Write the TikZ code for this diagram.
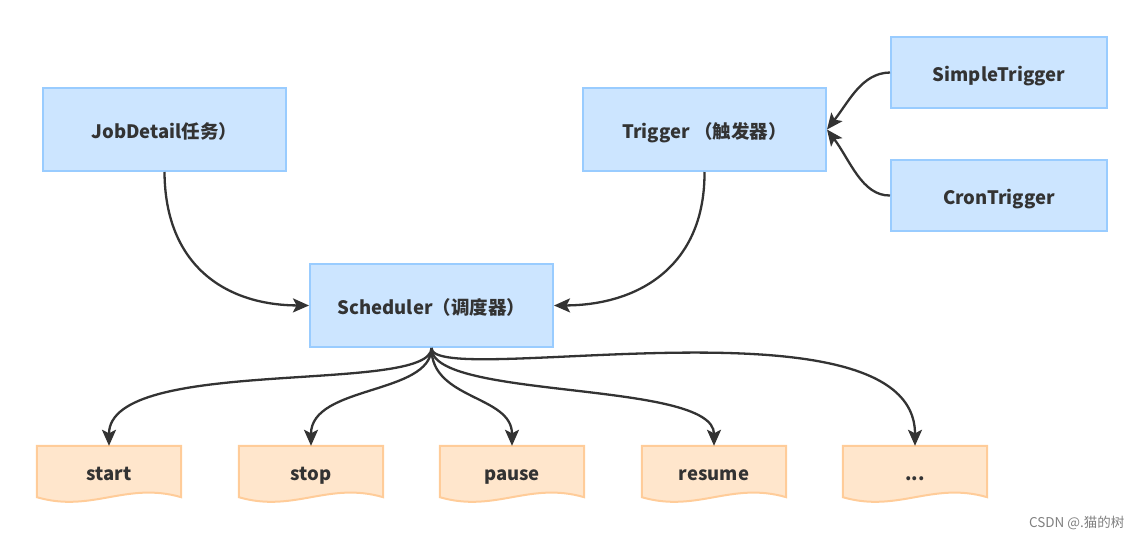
\documentclass[tikz,border=0pt]{standalone}
\usepackage{fontspec}
\setmainfont{Noto Sans CJK SC}
\usetikzlibrary{arrows.meta}
\pgfdeclarelayer{background}
\pgfsetlayers{background,main}
\definecolor{boxfill}{HTML}{CCE5FF}
\definecolor{boxline}{HTML}{99CCFF}
\definecolor{docfill}{HTML}{FFE6CC}
\definecolor{docline}{HTML}{FFCC99}
\definecolor{ink}{HTML}{333333}

\begin{document}
\begin{tikzpicture}[
  x=1pt, y=-1pt,
  bluenode/.style={rectangle, draw=boxline, fill=boxfill, line width=2pt, text=ink,
    font=\fontsize{18.5}{22}\selectfont\bfseries, text height=18pt, text depth=0pt,
    minimum width=243pt, minimum height=83pt},
  smallnode/.style={bluenode, minimum width=216pt, minimum height=71pt},
  docnode/.style={rectangle, text=ink, font=\fontsize{18.5}{22}\selectfont\bfseries,
    text height=18pt, text depth=0pt,
    minimum width=144pt, minimum height=51pt, inner sep=0pt},
  docshape/.style={draw=docline, fill=docfill, line width=2pt},
  link/.style={draw=ink, line width=2.3pt, -{Stealth[length=16pt,width=14pt,inset=3.5pt]}},
  ]
\useasboundingbox (0,0) rectangle (1143,541);

\node[bluenode] (job) at (164.5,129.5) {JobDetail任务）};
\node[bluenode] (trig) at (704.5,129.5) {Trigger （触发器）};
\node[smallnode] (simple) at (999,72.5) {SimpleTrigger};
\node[smallnode] (cron) at (999,195.5) {CronTrigger};
\node[bluenode] (sched) at (431.5,305.5) {Scheduler（调度器）};

\node[docnode] (start) at (109,471.5) {start};
\node[docnode] (stop) at (311,471.5) {stop};
\node[docnode] (pause) at (512,471.5) {pause};
\node[docnode] (resume) at (714,471.5) {resume};
\node[docnode] (more) at (915,471.5) {...};

% wavy document outlines
\begin{pgfonlayer}{background}
\foreach \n in {start,stop,pause,resume,more}
  \path[docshape] (\n.north west) -- (\n.north east) -- (\n.south east)
    .. controls +(-55,-16) and +(55,16) .. (\n.south west) -- cycle;
\end{pgfonlayer}

\path[link] (job.south) .. controls (165,265) and (225,305) .. (sched.west);
\path[link] (trig.south) .. controls (705,265) and (640,305) .. (sched.east);
\path[link] (simple.west) .. controls (862,73) and (850,100) .. (trig.east);
\path[link] (cron.west) .. controls (862,196) and (850,160) .. (trig.east);

\path[link] (sched.south) .. controls (431,395) and (109,355) .. (start.north);
\path[link] (sched.south) .. controls (431,395) and (311,385) .. (stop.north);
\path[link] (sched.south) .. controls (431,400) and (512,395) .. (pause.north);
\path[link] (sched.south) .. controls (431,400) and (714,380) .. (resume.north);
\path[link] (sched.south) .. controls (431,390) and (915,290) .. (more.north);

\node[text=gray, font=\fontsize{13.5}{15}\selectfont, anchor=east] (mark) at (1128,523) {CSDN @.猫的树};

\end{tikzpicture}
\end{document}
